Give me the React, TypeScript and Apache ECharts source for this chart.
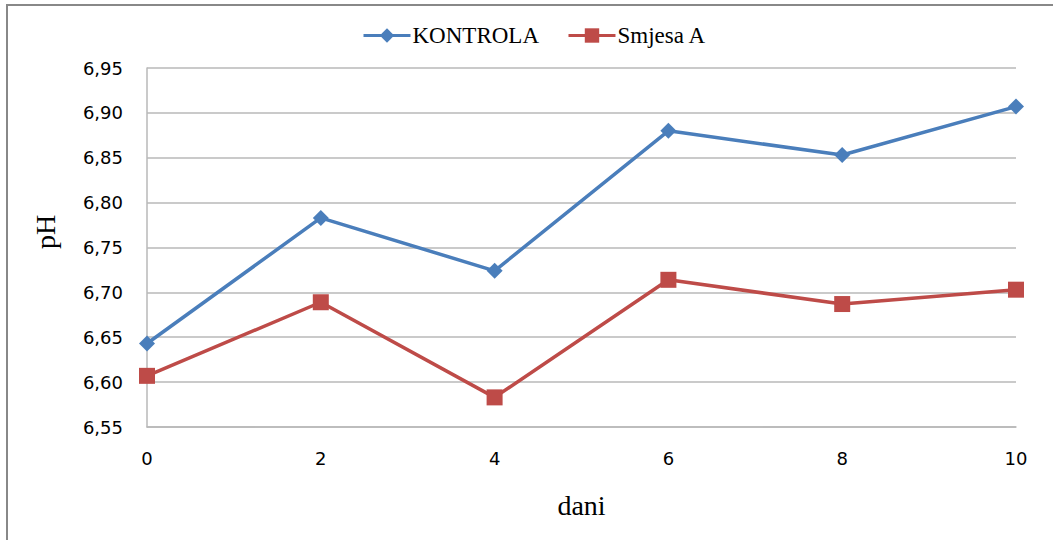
import React, { useEffect, useRef } from "react";
import * as echarts from "echarts";

const days = [0, 2, 4, 6, 8, 10];
const kontrola = [6.643, 6.783, 6.724, 6.88, 6.853, 6.907];
const smjesaA = [6.607, 6.689, 6.583, 6.714, 6.687, 6.703];
const seriesNames = ["KONTROLA", "Smjesa A"];
const xTitle = "dani";
const yTitle = "pH";

export default function App() {
  const ref = useRef<HTMLDivElement>(null);
  useEffect(() => {
    if (!ref.current) return;
    const chart = echarts.init(ref.current, undefined, { renderer: "svg" });
    const serif = "'Liberation Serif', 'Times New Roman', serif";
    const sans = "'DejaVu Sans', Verdana, sans-serif";
    chart.setOption({
      animation: false,
      backgroundColor: "#ffffff",
      legend: {
        top: 24,
        left: 362,
        padding: 0,
        itemWidth: 47,
        itemHeight: 18,
        itemGap: 28,
        lineStyle: { width: 3 },
        textStyle: { fontFamily: serif, fontSize: 23, color: "#000", padding: [0, 0, 0, -3] },
        data: [seriesNames[0], seriesNames[1]],
      },
      grid: { left: 147, right: 37, top: 68, bottom: 113, containLabel: false },
      xAxis: {
        type: "value",
        min: 0,
        max: 10,
        interval: 2,
        name: xTitle,
        nameLocation: "middle",
        nameGap: 64,
        nameTextStyle: { fontFamily: serif, fontSize: 28, color: "#000" },
        axisLine: { show: true, lineStyle: { color: "#b8b8b8", width: 1.5 } },
        axisTick: { show: false },
        axisLabel: { fontFamily: sans, fontSize: 18, color: "#000", margin: 22 },
        splitLine: { show: false },
      },
      yAxis: {
        type: "value",
        min: 6.55,
        max: 6.95,
        interval: 0.05,
        axisLine: { show: true, lineStyle: { color: "#b8b8b8", width: 1.5 } },
        axisTick: { show: false },
        axisLabel: {
          fontFamily: sans,
          fontSize: 18,
          color: "#000",
          margin: 24,
          formatter: (v: number) => v.toFixed(2).replace(".", ","),
        },
        splitLine: { show: true, lineStyle: { color: "#b8b8b8", width: 1.5 } },
      },
      series: [
        {
          name: seriesNames[0],
          type: "line",
          data: days.map((d, i) => [d, kontrola[i]]),
          symbol: "diamond",
          symbolSize: 16,
          lineStyle: { color: "#4A7EBB", width: 3.5 },
          itemStyle: { color: "#4A7EBB" },
        },
        {
          name: seriesNames[1],
          type: "line",
          data: days.map((d, i) => [d, smjesaA[i]]),
          symbol: "rect",
          symbolSize: 16,
          lineStyle: { color: "#BE4B48", width: 3.5 },
          itemStyle: { color: "#BE4B48" },
        },
      ],
      graphic: [
        { type: "line", shape: { x1: 6, y1: 5, x2: 1053, y2: 5 }, style: { stroke: "#888", lineWidth: 2 } },
        { type: "line", shape: { x1: 7, y1: 4, x2: 7, y2: 540 }, style: { stroke: "#888", lineWidth: 2 } },
        {
          type: "text",
          x: 45,
          y: 232,
          rotation: Math.PI / 2,
          style: {
            text: yTitle,
            fontFamily: serif,
            fontSize: 28,
            fill: "#000",
            align: "center",
            verticalAlign: "middle",
          },
        },
      ],
    });
    return () => chart.dispose();
  }, []);
  return (
    <div
      ref={ref}
      style={{ position: "fixed", left: 0, top: 0, width: 1053, height: 540 }}
    />
  );
}
